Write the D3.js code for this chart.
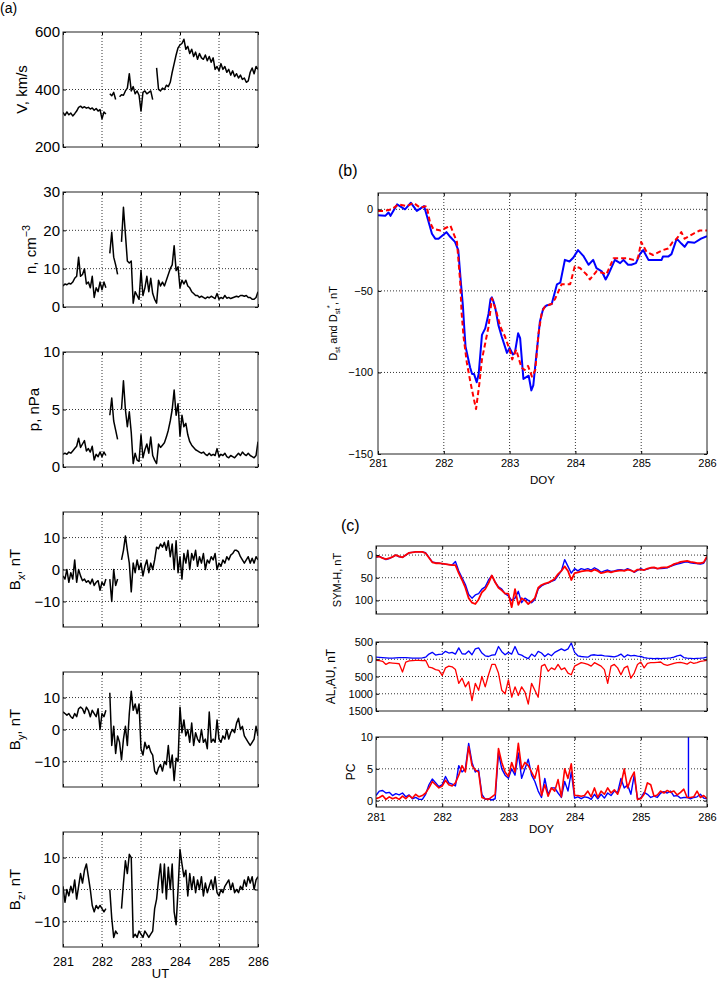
<!DOCTYPE html>
<html>
<head>
<meta charset="utf-8">
<title>Solar wind and geomagnetic indices, DOY 281-286</title>
<script src="https://cdn.jsdelivr.net/npm/d3@7"></script>
<style>
  body { margin: 0; background: #fff; }
  text { font-family: "Liberation Sans", Arial, Helvetica, sans-serif; fill: #000; }
</style>
</head>
<body>
<svg id="chart" width="717" height="986"></svg>
<script>
var dayTicks = [281, 282, 283, 284, 285, 286];

// (a) solar wind, one value every 0.05 day from 281.00 to 286.00, null = data gap
var swStart = 281, swStep = 0.05;
var speed = [
    320, 310, 322, 312, 318, 308, 316, 325, 338, 342,
    336, 340, 335, 338, 332, 336, 328, 334, 325, 330,
    298, 322, 315, null, 385, 378, 390, 365, null, 375,
    382, 380, 395, 405, 455, 395, 410, 385, 395, 380,
    325, 390, 395, 385, 390, 395, 365, null, 475, 400,
    395, 405, 400, 415, 410, 425, 460, 490, 520, 545,
    555, 560, 575, 540, 550, 525, 540, 515, 530, 505,
    525, 510, 505, 520, 500, 515, 495, 510, 470, 480,
    465, 490, 470, 480, 460, 470, 450, 465, 445, 455,
    440, 450, 435, 440, 425, 430, 460, 475, 455, 480,
    470];
var density = [
    5.5, 6, 5.8, 6.2, 6, 6.5, 7.5, 8, 13, 8,
    8.5, 10, 6, 6.5, 5, 8, 2.5, 5, 4, 6.5,
    4.5, 6.5, 5, null, 14, 19.5, 13, 11, 8.5, null,
    17, 26, 19, 12, 11.5, 12, 1, 4, 3, 2,
    9.5, 3, 5, 8, 4, 7.5, 3.5, 2, 1, 7,
    5.5, 6.5, 5.5, 7, 8.5, 10, 11, 16, 9.5, 10.5,
    5, 7, 6, 7, 5.5, 5, 4, 3.5, 3, 3,
    2.5, 2.8, 2.5, 2.2, 2.6, 2.4, 2.8, 2.5, 2.2, 3.5,
    2, 2.5, 2.2, 3, 2.3, 2.5, 2.2, 2.4, 2.6, 2.8,
    2.6, 3, 3, 2.8, 3, 2.5, 2.5, 2, 2, 2.5,
    4];
var pressure = [
    1.1, 1.2, 1.1, 1.3, 1.2, 1.4, 1.6, 1.8, 2.5, 1.7,
    2.0, 2.3, 1.4, 1.6, 1.3, 1.8, 0.6, 1.1, 0.9, 1.3,
    0.9, 1.3, 1.0, null, 4.5, 6.0, 4.0, 3.2, 2.4, null,
    5.0, 7.5, 5.0, 3.5, 4.8, 3.0, 0.3, 1.2, 0.6, 0.5,
    2.8, 0.8, 1.5, 2.0, 1.2, 2.6, 1.0, 0.6, 0.3, 2.0,
    1.7, 1.9, 2.1, 2.6, 3.2, 4.0, 5.0, 6.7, 4.5, 5.5,
    2.7, 4.5, 3.5, 3.8, 2.8, 2.2, 1.9, 1.7, 1.5, 1.4,
    1.3, 1.2, 1.3, 1.1, 1.0, 1.2, 1.0, 1.1, 1.0, 1.6,
    0.9, 1.1, 1.0, 1.2, 0.9, 0.8, 1.0, 0.9, 0.8, 1.0,
    1.2, 1.0, 1.3, 1.1, 1.0, 1.2, 1.0, 0.9, 0.8, 1.0,
    2.2];
var bx = [
    -2, -3, 0, -4, -1, -3, 3, -4, 0, -2,
    -3.5, -3, -4, -3.5, -4.5, -3, -5, -4, -3.5, -6.5,
    -4, -5, -3, null, -3, -10, 0, -5, -3, null,
    3, 6, 10.5, 6, 2, -7, 2, -1, 3, 0,
    2, -2, 1, 3, -1, 2, 0, 3, 7, 6.5,
    8, 7, 8.5, 6, 9, 4, 8, 0, 9, -1,
    4, -3, 5, 2, 6, 0, 5, 3, 6, 1,
    4, 2, 5, 0, 3, 2, 4, 3, 5, 0,
    2, 1, 3, 2, 4, 3, 4.5, 5, 6, 6,
    5.5, 4, 3, 2, 3, 4, 2, 3.5, 2, 4,
    3];
var by = [
    5.5, 5, 4.5, 5, 4, 3.5, 5, 4, 6.5, 7,
    6.5, 5, 7, 6, 4, 6, 5, 4, 6.5, 0,
    5, 4, 6, null, 11.5, -5, 1, -7.5, -2, -4,
    -9.5, -3, 1, -5, 5, 12, 6, 8, 5, 8,
    -6, -8, -4, -6, -5, -7, -8, -13, -14, -12,
    -11, -13, -10, -11, -5, -12, -8, -16, -9, -10,
    7, -1, 3, -2, 0, -4, 2, -5, -1, -3,
    -4, 0, -4, -3, -6, 5.5, -4, -3, -4, 3,
    -3, -4, -2, -3, 0, -3, -1, 0, -1, 2,
    3.5, 0, 1, -2, -3, -4, -5, -4, -3, 1,
    -2];
var bz = [
    1, -4, 0, -2, 1, -1, 3, -3, 1, 5,
    2, 6, 8, 4, 0, -5, -7, -5, -6, -5,
    -6, -7, -6, null, 0, -9, -15, -13, -14, null,
    -6, 2, 9, 5, 11, 10, -15, -14, -15, -13,
    -14, -15, -13, -14, -15, -14, -13, -6, -3, 3,
    8, -1, 8, -3, 7, 0, 8, -7, -11, 0,
    12.5, 8, 4, 6, -2, 5, 0, 4, -1, 3,
    0, 4, -2, 2, -1, 1, 3, 0, 4, -1,
    -2, 0, -1, 1, 2, 3, 0, 2, -1, 0,
    -1, 1, 0, 3, 1, 4, 2, 4, 0, 3,
    4];

// (b) Dst (blue) and Dst* (red dashed), [DOY, nT]
var dst = [[281.00, -3.7], [281.11, -4], [281.16, -2], [281.19, -4], [281.29, 3], [281.41, 0], [281.50, 4],
    [281.59, -1], [281.70, 2], [281.75, -5], [281.82, -15], [281.87, -18], [281.92, -18], [282.04, -14],
    [282.10, -17], [282.17, -20], [282.22, -25], [282.26, -45], [282.29, -59], [282.31, -72], [282.33, -84],
    [282.40, -97], [282.43, -101], [282.46, -101], [282.50, -106], [282.53, -101], [282.58, -77], [282.63, -73],
    [282.68, -64], [282.71, -55], [282.73, -54], [282.75, -56], [282.78, -60], [282.83, -71], [282.88, -78],
    [282.96, -88], [283.00, -85], [283.05, -89], [283.08, -88], [283.13, -76], [283.16, -79], [283.21, -104],
    [283.29, -102], [283.33, -111], [283.36, -108], [283.40, -92], [283.46, -69], [283.51, -61], [283.56, -59],
    [283.64, -58], [283.66, -55], [283.72, -46], [283.77, -45], [283.84, -31], [283.91, -32], [283.97, -29.5],
    [284.04, -25], [284.12, -28.5], [284.20, -34], [284.27, -31], [284.32, -36], [284.40, -38], [284.46, -43],
    [284.50, -40], [284.60, -31], [284.68, -33], [284.73, -31], [284.80, -34], [284.85, -34], [284.92, -33],
    [284.98, -27.5], [285.03, -25], [285.11, -31], [285.18, -31], [285.31, -31], [285.33, -29], [285.41, -29],
    [285.46, -27.5], [285.54, -18], [285.61, -21], [285.66, -23], [285.71, -20], [285.81, -20.5], [285.91, -18],
    [286.00, -16.5]];
var dstStar = [[281.00, -1], [281.09, -1], [281.21, 0], [281.31, 3], [281.44, 2], [281.54, 4], [281.64, 1],
    [281.74, 2], [281.79, -8], [281.84, -12], [281.95, -13], [282.05, -11], [282.10, -10], [282.15, -15],
    [282.20, -20], [282.25, -45], [282.27, -63], [282.30, -78], [282.35, -94], [282.40, -105], [282.45, -115],
    [282.49, -122.5], [282.54, -107], [282.58, -92], [282.63, -82], [282.68, -72], [282.73, -54.5], [282.75, -56.6],
    [282.80, -63], [282.86, -72], [282.93, -78], [283.00, -86], [283.04, -92], [283.10, -86], [283.18, -97],
    [283.23, -98.5], [283.28, -96], [283.34, -102.6], [283.39, -98.5], [283.44, -76], [283.49, -63], [283.54, -59.5],
    [283.64, -58], [283.69, -55], [283.79, -46], [283.92, -46], [283.99, -35], [284.07, -36], [284.17, -40],
    [284.22, -43], [284.32, -38], [284.42, -39], [284.47, -40], [284.58, -30], [284.68, -30], [284.78, -30],
    [284.88, -31], [284.95, -30], [285.00, -20], [285.08, -26], [285.18, -28], [285.33, -25], [285.41, -24],
    [285.48, -20], [285.54, -18], [285.61, -14], [285.66, -18], [285.79, -15], [285.89, -13], [286.00, -13]];

// (c) indices, one value every 0.05 day from 281.00 to 286.00
var symhBlue = [
    5, 3, 6, 10, 8, 4, 0, 4, 5, 0,
    -5, -6, -7, -7, -7, -5, 5, 15, 17, 18,
    19, 20, 21, 22, 14, 35, 50, 65, 87, 95,
    88, 85, 75, 70, 55, 45, 60, 70, 75, 85,
    90, 100, 95, 80, 105, 95, 100, 105, 98, 75,
    68, 64, 62, 58, 55, 45, 35, 10, 25, 40,
    30, 35, 30, 32, 30, 33, 28, 32, 38, 35,
    33, 36, 35, 33, 32, 34, 30, 33, 38, 34,
    30, 33, 31, 28, 28, 30, 30, 29, 28, 25,
    22, 20, 18, 16, 15, 17, 18, 19, 20, 18,
    5];
var symhRed = [
    4, 3, 7, 9, 7, 4, 0, 3, 5, 0,
    -5, -6, -7, -7, -7, -4, 6, 16, 18, 18,
    19, 20, 21, 22, 22, 40, 55, 72, 95, 105,
    108, 98, 82, 75, 62, 45, 60, 72, 78, 85,
    85, 115, 75, 110, 95, 100, 108, 102, 95, 72,
    66, 63, 61, 57, 52, 42, 35, 25, 35, 55,
    40, 38, 36, 35, 34, 36, 32, 35, 40, 38,
    36, 38, 36, 35, 34, 35, 32, 34, 37, 32,
    32, 33, 30, 28, 27, 30, 28, 27, 27, 24,
    20, 18, 15, 14, 13, 15, 16, 18, 18, 16,
    3];
var au = [
    60, 55, 50, 40, 30, 35, 40, 45, 50, 45,
    40, 35, 30, 35, 40, 60, 150, 200, 120, 140,
    150, 230, 180, 200, 150, 330, 160, 150, 240, 130,
    300, 330, 180, 100, 80, 120, 130, 370, 220, 130,
    200, 150, 370, 150, 120, 60, 20, 150, 80, 230,
    180, 80, 160, 100, 200, 250, 300, 250, 300, 470,
    200, 100, 80, 70, 60, 120, 130, 110, 120, 100,
    90, 80, 70, 100, 150, 60, 130, 100, 110, 90,
    80, 50, 30, 25, 20, 25, 20, 25, 30, 40,
    60, 100, 120, 50, 30, 25, 20, 25, 30, 40,
    60];
var al = [
    -30, -40, -60, -150, -100, -110, -120, -130, -370, -80,
    -50, -40, -30, -35, -40, -30, -230, -250, -300, -320,
    -470, -250, -200, -220, -300, -700, -550, -800, -650, -1200,
    -700, -900, -500, -800, -450, -150, -150, -400, -900, -1000,
    -600, -1100, -800, -1050, -800, -950, -1300, -700, -900, -1100,
    -200, -150, -350, -250, -300, -150, -300, -250, -400, -450,
    -200, -150, -100, -120, -150, -200, -100, -150, -200, -300,
    -700, -200, -150, -250, -450, -250, -200, -550, -400, -150,
    -80, -250, -120, -100, -100, -90, -80, -150, -180, -150,
    -120, -100, -90, -110, -140, -80, -120, -100, -60, -50,
    -30];
var pcBlue = [
    0.8, 1.5, 1.6, 1.2, 1.3, 0.8, 1.1, 0.9, 1.2, 0.6,
    0.9, 0.3, 0.5, 0.2, 0.2, 1.0, 2.5, 3.4, 2.8, 2.2,
    2.5, 3.8, 2.8, 2.6, 2.3, 5.5, 4.5, 5.0, 9.0, 6.0,
    4.5, 4.8, 1.0, 0.2, 0.3, 0.1, 0.3, 7.5, 5.0, 4.0,
    3.5, 5.0, 4.0, 7.5, 3.5, 5.0, 6.5, 4.0, 3.0, 1.5,
    0.5, 3.5, 1.0, 2.0, 2.0, 1.2, 0.5, 3.0, 1.5, 4.5,
    0.4, 0.6, 0.3, 0.6, 0.5, 0.2, 1.0, 0.3, 1.0, 0.4,
    1.2, 0.8, 1.5, 1.3, 3.5, 2.0, 2.5, 1.0, 4.0, 0.3,
    0.4, 1.3, 1.0, 0.5, 0.7, 0.5, 1.2, 1.4, 1.2, 1.5,
    0.7, 0.8, 0.4, 0.5, 0.5, 0.3, 0.5, 0.6, 1.0, 0.4,
    0.3];
// single bad sample in the blue PC record, [DOY, value]
var pcBlueSpike = [[285.72, 0.5], [285.72, 10.5]];
var pcRed = [
    0.3, 0.5, 0.8, 0.2, 0.6, 0.3, 0.5, 0.2, 0.7, 0.3,
    0.8, 0.4, 1.0, 0.6, 0.8, 1.2, 2.0, 3.0, 2.5, 2.0,
    2.3, 3.2, 2.5, 2.3, 2.8, 4.0, 5.5, 4.5, 8.5, 5.5,
    4.8, 4.5, 0.5, 0.3, 0.2, 0.6, 1.0, 8.2, 6.0, 4.5,
    3.8, 6.0, 4.5, 9.0, 5.0, 6.0, 5.5, 4.5, 3.5, 5.5,
    0.8, 2.5, 0.7, 2.0, 1.5, 3.3, 0.6, 5.0, 3.5, 5.8,
    0.8, 0.8, 0.7, 0.8, 1.5, 0.6, 2.0, 0.5, 1.5, 1.0,
    2.0, 1.2, 1.7, 1.0, 2.5, 5.0, 2.0, 3.5, 4.5, 0.2,
    0.3, 1.0, 2.8, 2.5, 0.7, 0.9, 1.5, 1.2, 1.6, 1.3,
    1.5, 0.9, 1.3, 1.8, 0.5, 0.5, 0.6, 1.5, 0.5, 0.8,
    0.3];

var fontStack = '"Liberation Sans", Arial, Helvetica, sans-serif';
var svg = d3.select('#chart');
var clipCount = 0;

function toPoints(values) {
    return values.map(function (v, i) { return [swStart + i * swStep, v]; });
}

// text with sub/superscripts, parts = [[text, ''|'sub'|'sup'], ...]
function richText(sel, parts, size) {
    var off = 0;
    parts.forEach(function (p) {
        var target = p[1] === 'sub' ? size * 0.3 : p[1] === 'sup' ? -size * 0.45 : 0;
        sel.append('tspan').attr('dy', target - off).attr('font-size', p[1] ? size * 0.72 : size).text(p[0]);
        off = target;
    });
}

function yLabel(cx, cy, parts, size) {
    var t = svg.append('text').attr('text-anchor', 'middle').attr('font-size', size)
        .attr('transform', 'translate(' + (cx + size * 0.36) + ',' + cy + ') rotate(-90)');
    richText(t, parts, size);
}

function plainText(x, y, str, size) {
    svg.append('text').attr('x', x).attr('y', y).attr('font-size', size).attr('text-anchor', 'middle').text(str);
}

function drawPanel(p) {
    var x = d3.scaleLinear().domain([281, 286]).range([p.left, p.right]);
    var y = d3.scaleLinear().domain(p.yDomain).range(p.flip ? [p.top, p.bottom] : [p.bottom, p.top]);
    var g = svg.append('g');
    var id = 'clip' + (clipCount++);
    g.append('clipPath').attr('id', id).append('rect')
        .attr('x', p.left).attr('y', p.top).attr('width', p.right - p.left).attr('height', p.bottom - p.top);

    // dotted grid
    var grid = g.append('g').attr('stroke', '#000').attr('stroke-width', 0.8).attr('stroke-dasharray', '1,2');
    grid.selectAll('.gx').data(dayTicks.slice(1, -1)).join('line').attr('class', 'gx')
        .attr('x1', function (d) { return x(d); }).attr('x2', function (d) { return x(d); })
        .attr('y1', p.top).attr('y2', p.bottom);
    var inner = p.yTicks.filter(function (t) {
        return Math.abs(y(t) - p.top) > 1.5 && Math.abs(y(t) - p.bottom) > 1.5;
    });
    grid.selectAll('.gy').data(inner).join('line').attr('class', 'gy')
        .attr('x1', p.left).attr('x2', p.right)
        .attr('y1', function (d) { return y(d); }).attr('y2', function (d) { return y(d); });

    var line = d3.line()
        .defined(function (d) { return d[1] != null; })
        .x(function (d) { return x(d[0]); })
        .y(function (d) { return y(d[1]); });
    p.series.forEach(function (s) {
        g.append('path').datum(s.points).attr('clip-path', 'url(#' + id + ')')
            .attr('fill', 'none').attr('stroke', s.color).attr('stroke-width', s.width)
            .attr('stroke-dasharray', s.dash || null).attr('stroke-linejoin', 'round').attr('d', line);
    });

    // inward ticks on all four sides, labels left and (optionally) bottom
    var ax = g.append('g').attr('transform', 'translate(' + p.left + ',0)')
        .call(d3.axisLeft(y).tickValues(p.yTicks).tickFormat(p.format || null)
            .tickSizeInner(-3).tickSizeOuter(0).tickPadding(p.yPad));
    ax.attr('font-size', p.yFont).attr('font-family', fontStack);
    ax.select('.domain').remove();
    g.append('g').attr('transform', 'translate(' + p.right + ',0)')
        .call(d3.axisRight(y).tickValues(p.yTicks).tickFormat('').tickSizeInner(-3).tickSizeOuter(0))
        .select('.domain').remove();
    g.append('g').attr('transform', 'translate(0,' + p.top + ')')
        .call(d3.axisTop(x).tickValues(dayTicks).tickFormat('').tickSizeInner(-3).tickSizeOuter(0))
        .select('.domain').remove();
    var bax = g.append('g').attr('transform', 'translate(0,' + p.bottom + ')')
        .call(d3.axisBottom(x).tickValues(dayTicks).tickFormat(p.xLabels ? d3.format('d') : '')
            .tickSizeInner(-3).tickSizeOuter(0).tickPadding(p.xPad || 4));
    bax.attr('font-size', p.xFont || 11).attr('font-family', fontStack);
    bax.select('.domain').remove();

    g.append('rect').attr('x', p.left).attr('y', p.top)
        .attr('width', p.right - p.left).attr('height', p.bottom - p.top)
        .attr('fill', 'none').attr('stroke', '#222').attr('stroke-width', 1);
}

// ---- (a) ----
var leftPanels = [
    { top: 32, data: speed, yDomain: [200, 600], yTicks: [200, 400, 600], lx: 22, label: [['V, km/s', '']] },
    { top: 192, data: density, yDomain: [0, 30], yTicks: [0, 10, 20, 30], lx: 31, label: [['n, cm', ''], ['\u22123', 'sup']] },
    { top: 352, data: pressure, yDomain: [0, 10], yTicks: [0, 5, 10], lx: 34, label: [['p, nPa', '']] },
    { top: 512, data: bx, yDomain: [-18, 18], yTicks: [-10, 0, 10], lx: 15, label: [['B', ''], ['x', 'sub'], [', nT', '']] },
    { top: 672, data: by, yDomain: [-18, 18], yTicks: [-10, 0, 10], lx: 15, label: [['B', ''], ['y', 'sub'], [', nT', '']] },
    { top: 832, data: bz, yDomain: [-18, 18], yTicks: [-10, 0, 10], lx: 15, label: [['B', ''], ['z', 'sub'], [', nT', '']] }
];
leftPanels.forEach(function (lp, i) {
    drawPanel({
        left: 63, right: 258, top: lp.top, bottom: lp.top + 115,
        yDomain: lp.yDomain, yTicks: lp.yTicks, yFont: 15, yPad: 3,
        xLabels: i === leftPanels.length - 1, xFont: 12.5, xPad: 10,
        series: [{ points: toPoints(lp.data), color: '#000', width: 1.5 }]
    });
    yLabel(lp.lx, lp.top + 57.5, lp.label, 15);
});
plainText(160.5, 978, 'UT', 13);
svg.append('text').attr('x', 0).attr('y', 13).attr('font-size', 14).text('(a)');

// ---- (b) ----
drawPanel({
    left: 378, right: 707, top: 193, bottom: 454,
    yDomain: [-150, 10], yTicks: [-150, -100, -50, 0], yFont: 11, yPad: 5,
    xLabels: true, xFont: 11, xPad: 5,
    series: [
        { points: dst, color: '#0000ff', width: 2 },
        { points: dstStar, color: '#ff0000', width: 2, dash: '5,3' }
    ]
});
yLabel(333, 323.5, [['D', ''], ['st', 'sub'], [' and D', ''], ['st', 'sub'], ['*', 'sup'], [', nT', '']], 11);
plainText(542.5, 484, 'DOY', 11.5);
svg.append('text').attr('x', 338).attr('y', 176).attr('font-size', 16).text('(b)');

// ---- (c) ----
drawPanel({
    left: 376, right: 707, top: 546, bottom: 614, flip: true,
    yDomain: [-20, 130], yTicks: [0, 50, 100], yFont: 11, yPad: 3,
    series: [
        { points: toPoints(symhBlue), color: '#0000ff', width: 1.4 },
        { points: toPoints(symhRed), color: '#ff0000', width: 1.8 }
    ]
});
yLabel(337, 580, [['SYM-H, nT', '']], 11);

drawPanel({
    left: 376, right: 707, top: 642, bottom: 711,
    yDomain: [-1500, 500], yTicks: [-1500, -1000, -500, 0, 500], yFont: 11, yPad: 3,
    format: function (d) { return String(Math.abs(d)); },
    series: [
        { points: toPoints(au), color: '#0000ff', width: 1.3 },
        { points: toPoints(al), color: '#ff0000', width: 1.3 }
    ]
});
yLabel(331, 676.5, [['AL,AU, nT', '']], 12);

drawPanel({
    left: 376, right: 707, top: 737, bottom: 807,
    yDomain: [-1, 10], yTicks: [0, 5, 10], yFont: 11, yPad: 3,
    xLabels: true, xFont: 11, xPad: 6,
    series: [
        { points: toPoints(pcBlue), color: '#0000ff', width: 1.4 },
        { points: pcBlueSpike, color: '#0000ff', width: 1.4 },
        { points: toPoints(pcRed), color: '#ff0000', width: 1.6 }
    ]
});
yLabel(351, 772, [['PC', '']], 12);
plainText(541.5, 833, 'DOY', 11.5);
svg.append('text').attr('x', 341).attr('y', 531).attr('font-size', 16).text('(c)');
</script>
</body>
</html>
